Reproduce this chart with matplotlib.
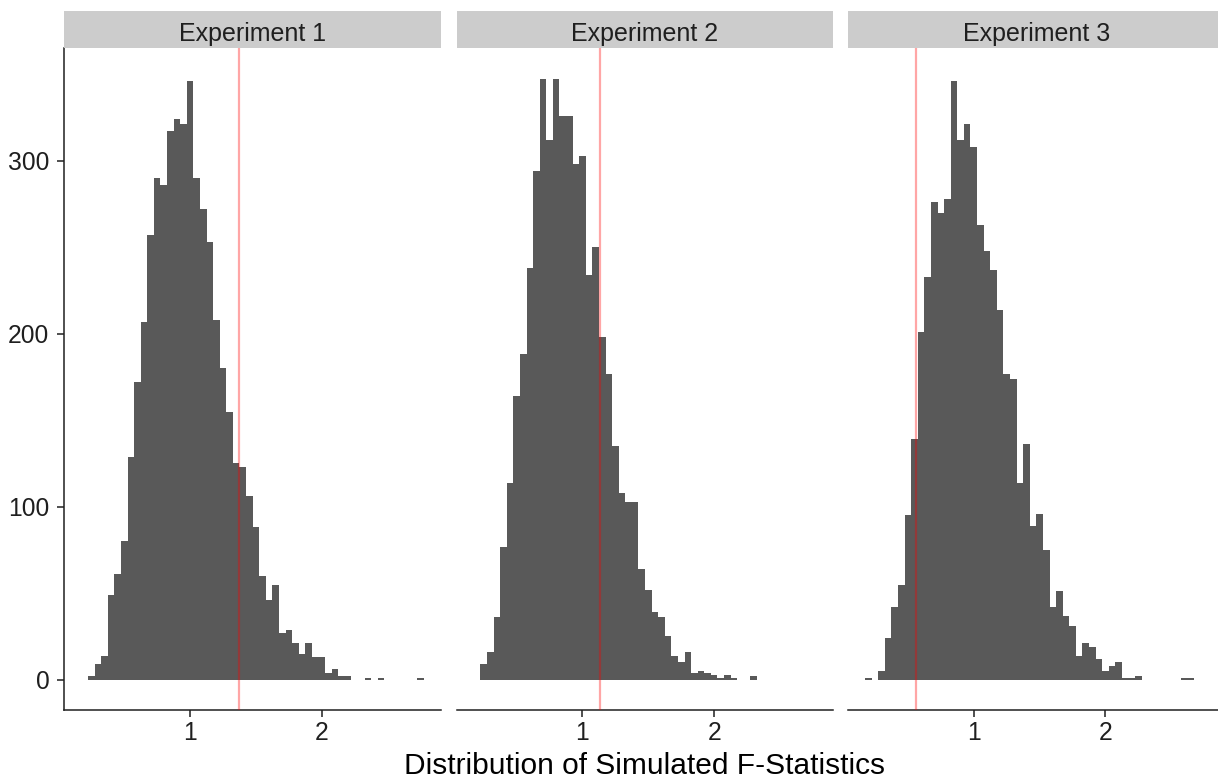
import numpy as np
import matplotlib.pyplot as plt

plt.rcParams['font.family'] = ['Liberation Sans', 'DejaVu Sans']

# histogram bins shared by the three facets (binwidth 0.05)
bin_start = 0.175
bin_width = 0.05
n_bins = 52

panels = ["Experiment 1", "Experiment 2", "Experiment 3"]

exp1 = [0, 2, 9, 14, 49, 61, 80, 129, 172, 207, 257,
        290, 286, 317, 324, 321, 346, 290, 272, 253, 208,
        180, 155, 125, 123, 106, 88, 60, 46, 55, 27,
        29, 21, 15, 21, 13, 13, 4, 6, 2, 2,
        0, 0, 1, 0, 1, 0, 0, 0, 0, 0, 1]
exp2 = [0, 9, 16, 36, 77, 114, 164, 188, 238, 294, 347,
        312, 347, 326, 326, 298, 303, 234, 250, 198, 177,
        135, 108, 103, 103, 64, 52, 39, 36, 25, 14,
        10, 16, 4, 5, 4, 3, 1, 3, 1, 0, 0, 2,
        0, 0, 0, 0, 0, 0, 0, 0, 0]
exp3 = [1, 0, 5, 24, 42, 55, 95, 139, 201, 233,
        276, 270, 278, 346, 312, 321, 308, 263, 248, 237,
        214, 177, 174, 114, 136, 89, 96, 75, 42, 51,
        37, 31, 14, 21, 19, 12, 5, 8, 10, 1,
        1, 2, 0, 0, 0, 0, 0, 0, 1, 1, 0, 0]
counts = [exp1, exp2, exp3]

# observed F statistic of each experiment (red line)
f_obs = [1.369, 1.136, 0.558]

x_ticks = [1, 2]
y_ticks = [0, 100, 200, 300]

edges = bin_start + bin_width * np.arange(n_bins + 1)
span = edges[-1] - edges[0]
xlim = (edges[0] - 0.05 * span, edges[-1] + 0.05 * span)

W, H = 1218, 780
fig = plt.figure(figsize=(W / 100, H / 100), dpi=100)

lefts = [64.3, 456.7, 848.0]
pw = 376.7
top, bot = 48.3, 710.0
strip_h = 37.6
ink = '#1f1f1f'

for i, name in enumerate(panels):
    ax = fig.add_axes([lefts[i] / W, (H - bot) / H, pw / W, (bot - top) / H])
    ax.stairs(counts[i], edges, fill=True, color='#595959', linewidth=0)
    ax.axvline(f_obs[i], color='red', alpha=0.35, lw=1.6, zorder=3)
    ax.set_xlim(xlim)
    ax.set_ylim(-17.5, 365)
    ax.set_xticks(x_ticks)
    ax.set_xticklabels([str(t) for t in x_ticks])
    for s in ['top', 'right']:
        ax.spines[s].set_visible(False)
    ax.spines['bottom'].set_linewidth(1.1)
    ax.spines['bottom'].set_color(ink)
    ax.tick_params(axis='x', length=4.7, width=1.1, color=ink, labelsize=17.7,
                   labelcolor=ink, pad=2.9)
    if i == 0:
        ax.set_yticks(y_ticks)
        ax.spines['left'].set_linewidth(1.1)
        ax.spines['left'].set_color(ink)
        ax.tick_params(axis='y', length=4.7, width=1.1, color=ink, labelsize=17.7,
                       labelcolor=ink, pad=6)
    else:
        ax.spines['left'].set_visible(False)
        ax.set_yticks([])

    sx = fig.add_axes([lefts[i] / W, (H - top) / H, pw / W, strip_h / H])
    sx.set_facecolor('#cccccc')
    for s in sx.spines.values():
        s.set_visible(False)
    sx.set_xticks([])
    sx.set_yticks([])
    sx.text(0.5, 0.194, name, ha='center', va='baseline', fontsize=18, color=ink,
            transform=sx.transAxes)

fig.text((lefts[0] + lefts[2] + pw) / 2 / W, 0.5 / H, "Distribution of Simulated F-Statistics",
         ha='center', va='bottom', fontsize=21.5, color='black')

fig.savefig('out.png', dpi=100)
